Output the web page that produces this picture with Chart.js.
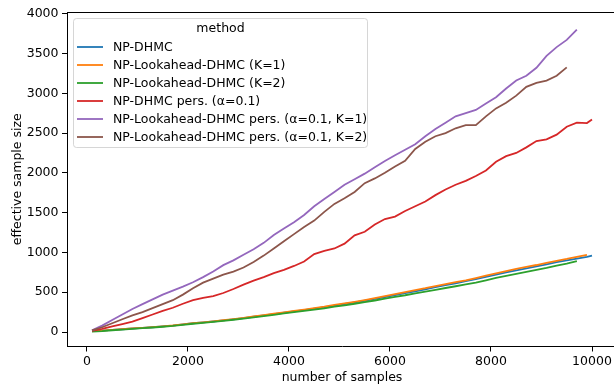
<!DOCTYPE html>
<html>
<head>
<meta charset="utf-8">
<script src="https://cdn.jsdelivr.net/npm/chart.js@4"></script>
<style>
  html, body { margin: 0; padding: 0; overflow: hidden; background: #fff; }
  #wrap { width: 620px; height: 385px; }
</style>
</head>
<body>
<div id="wrap"><canvas id="chartEss" width="620" height="385"></canvas></div>
<script>
// number of samples (x values)
const samples = [100, 300, 500, 700, 900, 1100, 1300, 1500, 1700, 1900,
  2100, 2300, 2500, 2700, 2900, 3100, 3300, 3500, 3700, 3900,
  4100, 4300, 4500, 4700, 4900, 5100, 5300, 5500, 5700, 5900,
  6100, 6300, 6500, 6700, 6900, 7100, 7300, 7500, 7700, 7900,
  8100, 8300, 8500, 8700, 8900, 9100, 9300, 9500, 9700, 9900, 10000];

const npDhmc = [10, 18, 27, 35, 44, 52, 60, 70, 80, 95,
  110, 120, 132, 145, 160, 175, 192, 208, 225, 242,
  260, 276, 295, 312, 333, 352, 372, 393, 415, 440,
  465, 488, 512, 535, 563, 590, 612, 638, 665, 692,
  720, 748, 775, 800, 825, 850, 877, 900, 922, 945, 961];

const lookK1 = [10, 18, 28, 36, 45, 53, 62, 72, 82, 97,
  111, 122, 134, 148, 163, 178, 196, 212, 230, 247,
  265, 282, 300, 318, 340, 360, 380, 402, 425, 450,
  476, 500, 525, 550, 578, 603, 628, 650, 678, 708,
  738, 765, 792, 818, 842, 870, 895, 918, 945, 970, null];

const lookK2 = [5, 12, 22, 30, 40, 48, 57, 66, 76, 90,
  104, 115, 127, 140, 154, 168, 184, 200, 216, 233,
  250, 265, 282, 298, 318, 336, 355, 375, 396, 420,
  442, 462, 485, 507, 530, 553, 575, 598, 622, 650,
  680, 705, 730, 755, 780, 805, 835, 860, 890, null, null];

const npDhmcPers = [15, 40, 70, 100, 130, 175, 220, 265, 305, 355,
  400, 430, 450, 490, 540, 595, 645, 690, 740, 780,
  830, 885, 980, 1020, 1050, 1110, 1215, 1260, 1350, 1420,
  1450, 1520, 1580, 1640, 1720, 1790, 1850, 1900, 1960, 2030,
  2140, 2210, 2250, 2320, 2400, 2420, 2480, 2580, 2630, 2625, 2670];

const lookPersK1 = [20, 80, 150, 220, 290, 350, 410, 470, 520, 570,
  625, 690, 760, 840, 900, 970, 1040, 1120, 1220, 1300,
  1380, 1470, 1580, 1670, 1760, 1850, 1920, 1990, 2070, 2150,
  2220, 2290, 2360, 2460, 2550, 2630, 2710, 2750, 2790, 2870,
  2950, 3060, 3160, 3220, 3320, 3470, 3580, 3670, 3800, null, null];

const lookPersK2 = [20, 60, 110, 160, 210, 250, 300, 350, 400, 470,
  550, 620, 670, 720, 760, 810, 880, 960, 1050, 1140,
  1230, 1320, 1400, 1510, 1610, 1680, 1760, 1870, 1930, 2000,
  2080, 2150, 2300, 2390, 2460, 2500, 2560, 2600, 2600, 2710,
  2810, 2880, 2970, 3080, 3130, 3160, 3220, 3325, null, null, null];

const methodNames = ['NP-DHMC', 'NP-Lookahead-DHMC (K=1)', 'NP-Lookahead-DHMC (K=2)',
  'NP-DHMC pers. (\u03b1=0.1)', 'NP-Lookahead-DHMC pers. (\u03b1=0.1, K=1)',
  'NP-Lookahead-DHMC pers. (\u03b1=0.1, K=2)'];
const methodColors = ['#1f77b4', '#ff7f0e', '#2ca02c', '#d62728', '#9467bd', '#8c564b'];
const xTicks = [0, 2000, 4000, 6000, 8000, 10000];
const yTicks = [0, 500, 1000, 1500, 2000, 2500, 3000, 3500, 4000];

const allSeries = [npDhmc, lookK1, lookK2, npDhmcPers, lookPersK1, lookPersK2];
const FONT = 'DejaVu Sans';

// matplotlib-style boxed legend plus top spine
const mplLegend = {
  id: 'mplLegend',
  afterDraw(chart) {
    const ctx = chart.ctx;
    const a = chart.chartArea;
    ctx.save();
    ctx.strokeStyle = '#000';
    ctx.lineWidth = 1;
    ctx.beginPath();
    ctx.moveTo(a.left, Math.round(a.top) + 0.5);
    ctx.lineTo(a.right, Math.round(a.top) + 0.5);
    ctx.stroke();

    const x0 = 73.5, y0 = 18.5, w = 294, h = 129;
    ctx.beginPath();
    ctx.roundRect(x0, y0, w, h, 3);
    ctx.fillStyle = 'rgba(255,255,255,0.8)';
    ctx.fill();
    ctx.strokeStyle = 'rgba(204,204,204,0.8)';
    ctx.stroke();

    ctx.font = '12.5px "' + FONT + '"';
    ctx.fillStyle = '#000';
    ctx.textBaseline = 'middle';
    ctx.textAlign = 'center';
    ctx.fillText('method', x0 + w / 2, 29);
    ctx.textAlign = 'left';
    chart.data.datasets.forEach((ds, i) => {
      const y = 47 + i * 18;
      ctx.strokeStyle = ds.borderColor;
      ctx.lineWidth = 1.8;
      ctx.beginPath();
      ctx.moveTo(77, y);
      ctx.lineTo(103, y);
      ctx.stroke();
      ctx.fillText(ds.label, 113, y + 0.5);
    });
    ctx.restore();
  }
};

const ctx = document.getElementById('chartEss').getContext('2d');
new Chart(ctx, {
  type: 'line',
  data: {
    labels: samples,
    datasets: allSeries.map((vals, i) => ({
      label: methodNames[i],
      data: vals.map((v, j) => ({ x: samples[j], y: v })),
      borderColor: methodColors[i],
      backgroundColor: methodColors[i],
      borderWidth: 1.8,
      pointRadius: 0,
      tension: 0,
      spanGaps: false,
      order: -i
    }))
  },
  options: {
    responsive: false,
    animation: false,
    layout: { padding: { left: 0, right: 3, top: 12, bottom: 0 } },
    plugins: {
      legend: { display: false },
      tooltip: { enabled: false }
    },
    scales: {
      x: {
        type: 'linear',
        min: -395,
        max: 10495,
        afterBuildTicks: s => { s.ticks = xTicks.map(v => ({ value: v })); },
        afterFit: s => { s.height = 38.5; },
        grid: { drawOnChartArea: false, drawTicks: true, tickLength: 5, color: '#000' },
        border: { display: true, color: '#000', width: 1 },
        ticks: { color: '#000', padding: 3, maxRotation: 0, callback: v => String(v), font: { family: FONT, size: 12.5 } },
        title: { display: true, text: 'number of samples', color: '#000', padding: 0, font: { family: FONT, size: 12.5 } }
      },
      y: {
        type: 'linear',
        min: -182,
        max: 4021,
        afterBuildTicks: s => { s.ticks = yTicks.map(v => ({ value: v })); },
        afterFit: s => { s.width = 67; },
        grid: { drawOnChartArea: false, drawTicks: true, tickLength: 5, color: '#000' },
        border: { display: true, color: '#000', width: 1 },
        ticks: { color: '#000', padding: 3.5, callback: v => String(v), font: { family: FONT, size: 12.5 } },
        title: { display: true, text: 'effective sample size', color: '#000', padding: { top: 10, bottom: 0 }, font: { family: FONT, size: 12.5 } }
      }
    }
  },
  plugins: [mplLegend]
});
</script>
</body>
</html>
